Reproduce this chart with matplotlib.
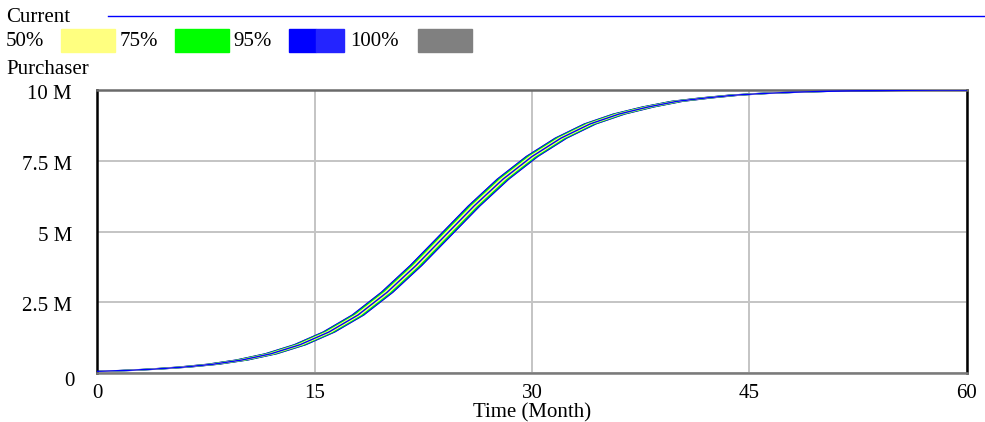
import numpy as np
import matplotlib.pyplot as plt
from matplotlib.transforms import ScaledTranslation

plt.rcParams['font.family'] = ['Liberation Serif', 'DejaVu Serif']

# Purchaser (millions), every 2 months
t = np.arange(0, 61, 2)
current = [0.06, 0.09, 0.14, 0.21, 0.31, 0.46, 0.68, 1.0, 1.45, 2.05,
           2.85, 3.8, 4.85, 5.9, 6.85, 7.65, 8.3, 8.8, 9.15, 9.4,
           9.6, 9.72, 9.82, 9.88, 9.92, 9.95, 9.97, 9.98, 9.99, 10.0, 10.0]

# sensitivity bands: half width in months
bands = ['100%', '95%', '75%', '50%']
spread = [0.4, 0.4, 0.28, 0.16]
band_colors = ['#808080', '#0000ff', '#00ff00', '#ffff80']

yticks = [0, 2.5, 5, 7.5, 10]
ylabels = ['0', '2.5 M', '5 M', '7.5 M', '10 M']
xticks = [0, 15, 30, 45, 60]

FS = 15

fig = plt.figure(figsize=(9.85, 4.22), dpi=100)
ax = fig.add_axes([0.0985, 0.1161, 0.8832, 0.6706])

y = np.array(current)
for s, c in zip(spread, band_colors):
    ax.fill(np.r_[t - s, (t + s)[::-1]], np.r_[y, y[::-1]], color=c, lw=0.8,
            ec='#0000ff' if c == '#0000ff' else c, zorder=2)
ax.plot(t, y, color='#0000ff', lw=1.0, zorder=3)

ax.set_xlim(0, 60)
ax.set_ylim(0, 10)
ax.set_xticks(xticks)
ax.set_yticks(yticks)
ax.set_yticklabels(ylabels)
ax.tick_params(length=0, labelsize=FS)
ax.tick_params(axis='y', pad=18)
ax.tick_params(axis='x', pad=8)
ax.grid(color='#c4c4c4', lw=1.4)
ax.set_axisbelow(True)
for i, lab in enumerate(ax.get_yticklabels()):
    dx, dy = (0.03, -0.06) if i == 0 else (0, -0.02)
    lab.set_transform(lab.get_transform() + ScaledTranslation(dx, dy, fig.dpi_scale_trans))
ax.set_xlabel('Time (Month)', fontsize=FS, labelpad=0)

ax.spines['left'].set_color('black')
ax.spines['right'].set_color('black')
ax.spines['top'].set_color('#6a6a6a')
ax.spines['bottom'].set_color('#7a7a7a')
for sp in ax.spines.values():
    sp.set_linewidth(1.8)

# Vensim style legend on top
W, H = 985, 422
def px(x, y):
    return x / W, 1 - y / H

fig.text(*px(6, 18), 'Current', fontsize=FS, va='center')
fig.add_artist(plt.Line2D([108 / W, 1], [1 - 16 / H] * 2, color='#0000ff', lw=1))
lab_x = [6, 120, 233, 350]
patch_x = [61, 175, 289, 418]
for lbl, lx, pxx, c in zip(bands[::-1], lab_x, patch_x, band_colors[::-1]):
    fig.text(*px(lx, 42), lbl, fontsize=FS, va='center')
    if c == '#0000ff':
        fig.add_artist(plt.Rectangle(px(pxx, 52), 27 / W, 23 / H, color='#0000ff'))
        fig.add_artist(plt.Rectangle(px(pxx + 27, 52), 28 / W, 23 / H, color='#2424ff'))
    else:
        fig.add_artist(plt.Rectangle(px(pxx, 52), 54 / W, 23 / H, color=c))
fig.text(*px(6, 70), 'Purchaser', fontsize=FS, va='center')

fig.savefig('out.png', dpi=100)
